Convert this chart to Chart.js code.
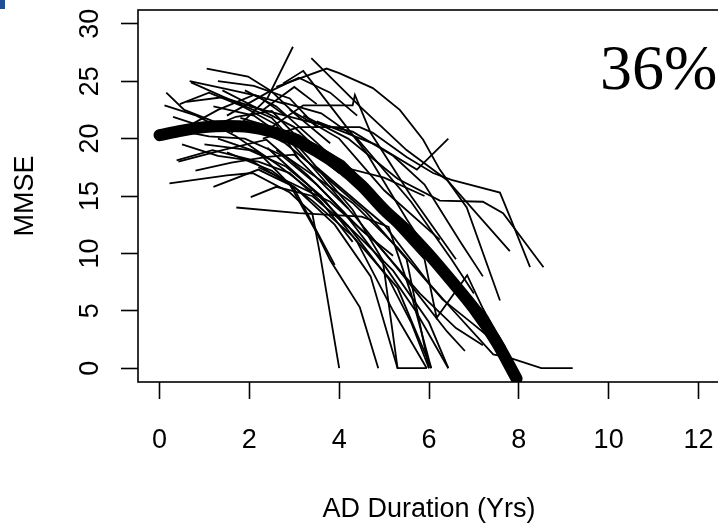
<!DOCTYPE html>
<html>
<head>
<meta charset="utf-8">
<title>MMSE vs AD Duration</title>
<script src="https://cdn.jsdelivr.net/npm/chart.js@4.4.1/dist/chart.umd.min.js"></script>
<style>
    html, body { margin: 0; padding: 0; background: #fff; overflow: hidden; }
    #wrap { position: relative; width: 722px; height: 524px; }
    #corner { position: absolute; left: 0; top: 0; width: 5px; height: 9px; background: #1f4f95; }
</style>
</head>
<body>
<div id="wrap">
    <canvas id="chart" width="722" height="524"></canvas>
    <div id="corner"></div>
</div>
<script>
// axis ticks
const durationTicks = [0, 2, 4, 6, 8, 10, 12];
const mmseTicks = [0, 5, 10, 15, 20, 25, 30];
const xTitle = 'AD Duration (Yrs)';
const yTitle = 'MMSE';
const annotation = '36%';

// fitted mean trajectory (thick curve)
const meanYears = [0, 0.5, 1, 1.5, 2, 2.5, 3, 3.5, 4, 4.5, 5, 5.5, 6, 6.5, 7, 7.5, 7.95];
const meanMmse = [20.3, 20.7, 21.0, 21.1, 21.0, 20.6, 19.9, 18.9, 17.6, 15.9, 13.8, 12.0, 9.9, 7.6, 5.2, 2.3, -0.9];

// individual patient trajectories, [years, MMSE]
const trajectories = [
    [[0.15, 24.0], [0.55, 22.5], [1.4, 21.2], [2.3, 20.6]],
    [[0.11, 22.9], [0.82, 22.0], [1.7, 20.2], [2.6, 17.8], [3.4, 15.4]],
    [[0.7, 24.9], [1.56, 23.4], [2.5, 21.8], [3.3, 18.4], [4.3, 13.8], [4.97, 9.4], [5.3, 0], [5.95, 0]],
    [[1.05, 26.1], [1.97, 25.4], [2.5, 24.1], [3.0, 22.2], [3.8, 19.6]],
    [[0.22, 16.1], [1.5, 16.8], [2.07, 17.0], [2.9, 15.3], [3.4, 13.5], [3.57, 10.0], [4.0, 0]],
    [[0.42, 18.0], [1.4, 19.0], [2.38, 19.9], [3.3, 16.8], [4.1, 13.6], [5.0, 9.0], [5.7, 5.0], [6.43, 0]],
    [[0.38, 18.1], [1.18, 19.0], [2.0, 18.2], [2.9, 16.0], [3.5, 11.8], [3.8, 9.4], [4.46, 5.3], [4.87, 0]],
    [[1.71, 14.0], [3.1, 13.5], [4.5, 13.2], [5.1, 12.3], [5.6, 6.5], [6.05, 0]],
    [[0.3, 21.9], [1.0, 21.0], [1.9, 21.4], [2.8, 19.6], [3.6, 17.0], [4.6, 13.6], [5.5, 9.5], [6.0, 0]],
    [[1.3, 20.0], [2.2, 18.8], [3.0, 15.6], [3.9, 9.0]],
    [[2.6, 24.5], [3.72, 26.1], [4.0, 25.7], [4.75, 24.4], [5.35, 22.5], [5.87, 19.9], [6.24, 17.3], [6.84, 14.0], [7.58, 5.9]],
    [[2.3, 20.0], [3.1, 21.0], [4.46, 21.0], [4.75, 20.5], [5.5, 18.4], [6.09, 17.0], [6.5, 16.4], [7.58, 15.3], [7.8, 13.2], [8.25, 8.8]],
    [[3.2, 22.0], [4.2, 20.0], [5.3, 16.5], [6.24, 14.6], [7.2, 14.5], [7.65, 13.5], [8.55, 8.8]],
    [[1.6, 20.5], [2.4, 23.5], [2.97, 28.0]],
    [[3.38, 27.0], [4.46, 22.8], [5.5, 19.0], [6.4, 16.4], [7.8, 10.2]],
    [[3.5, 21.5], [4.8, 19.5], [5.73, 17.3], [6.43, 20.0]],
    [[2.9, 22.5], [4.0, 20.0], [5.0, 15.5], [6.24, 11.2]],
    [[3.0, 20.5], [4.5, 15.5], [5.9, 9.5], [6.17, 4.4], [6.85, 8.1], [7.2, 5.2], [7.5, 3.0]],
    [[3.5, 17.5], [5.0, 12.5], [6.0, 7.4], [6.5, 5.2], [7.43, 1.2], [7.8, 0.9], [8.5, 0], [9.2, 0]],
    [[2.75, 24.8], [3.2, 25.9], [3.87, 22.5], [4.6, 18.8], [5.5, 13.0], [6.3, 8.2], [7.0, 4.5]],
    [[2.5, 21.0], [3.2, 22.9], [4.3, 22.9], [4.35, 23.8], [4.7, 20.5], [5.6, 15.0], [6.6, 9.5]],
    [[2.0, 22.8], [3.3, 21.5], [4.3, 20.6], [5.2, 18.5], [5.9, 16.0], [6.7, 11.0], [7.2, 8.0]],
    [[2.7, 23.2], [3.6, 22.2], [4.4, 20.0], [5.6, 14.5], [6.5, 9.5], [7.0, 6.5]],
    [[1.8, 21.8], [3.1, 20.3], [4.1, 18.0], [5.1, 14.0], [6.0, 10.5], [7.3, 4.5], [7.7, 1.8]],
    [[2.4, 19.2], [3.3, 16.0], [4.2, 12.4], [5.1, 7.8], [5.6, 4.0], [6.0, 0]],
    [[1.2, 22.8], [2.1, 22.0], [2.9, 19.8], [3.7, 16.2], [4.4, 13.0], [5.4, 8.2], [6.4, 3.2], [6.8, 1.5]],
    [[0.5, 19.5], [1.3, 18.5], [2.2, 18.0], [2.9, 17.0], [3.6, 14.5], [4.3, 11.0]],
    [[0.6, 21.0], [1.3, 22.5], [2.1, 23.8], [2.8, 23.0]],
    [[1.4, 24.2], [2.2, 22.6], [3.0, 21.0], [3.8, 18.0], [4.7, 15.6], [5.6, 12.0]],
    [[1.0, 19.5], [2.0, 19.0], [2.8, 17.6], [3.6, 15.0], [4.4, 11.0], [5.2, 5.0], [5.95, 0]],
    [[1.5, 18.8], [2.5, 17.2], [3.4, 14.6], [4.3, 11.5], [5.3, 7.0], [6.05, 0]],
    [[2.2, 17.5], [3.0, 16.0], [3.8, 14.5], [4.8, 11.0], [5.8, 6.5], [6.6, 3.5], [7.2, 2.0]],
    [[2.6, 19.0], [3.5, 16.6], [4.3, 14.4], [5.3, 10.5], [6.3, 6.0], [7.0, 3.8], [7.4, 2.5]],
    [[1.3, 25.0], [2.1, 24.6], [2.9, 23.5], [3.5, 21.0]],
    [[0.6, 23.2], [1.4, 23.6], [2.3, 22.5], [3.0, 24.5], [3.5, 23.0]],
    [[1.9, 24.2], [2.6, 22.8], [3.4, 20.0], [4.1, 17.5], [5.0, 16.6], [5.9, 15.0]],
    [[0.67, 25.0], [1.5, 24.3], [2.2, 23.7], [2.8, 22.0]],
    [[1.5, 22.0], [2.4, 24.0], [3.1, 25.3], [3.8, 24.0], [4.4, 22.0]],
    [[1.2, 15.8], [2.2, 17.3], [3.0, 15.8], [3.9, 12.5], [4.7, 8.0], [5.3, 0]],
    [[2.03, 14.9], [2.6, 15.8], [3.4, 15.0], [4.3, 12.0], [5.2, 8.5], [6.0, 4.0], [6.43, 0]],
    [[0.9, 20.6], [1.7, 21.9], [2.5, 22.4], [3.3, 19.2], [4.0, 17.0]],
    [[0.3, 20.8], [1.1, 20.2], [1.9, 20.0], [2.7, 18.6], [3.5, 16.0], [4.5, 12.0], [5.2, 9.8]],
    [[0.45, 23.0], [1.1, 24.0], [1.8, 22.9], [2.6, 21.2], [3.1, 18.2]],
    [[0.8, 17.2], [1.6, 17.9], [2.4, 18.4], [3.0, 18.6], [3.7, 15.8], [4.2, 13.9]]
];

const sansFont = '"Liberation Sans", Arial, sans-serif';

const rFrame = {
    id: 'rFrame',
    afterDraw(chart) {
        const { ctx, chartArea: a, scales: { x, y } } = chart;
        ctx.save();
        ctx.strokeStyle = '#000';
        ctx.lineWidth = 1.6;
        ctx.strokeRect(a.left, a.top, a.right - a.left, a.bottom - a.top);

        ctx.fillStyle = '#000';
        ctx.font = '27px ' + sansFont;
        ctx.textAlign = 'center';
        ctx.textBaseline = 'alphabetic';
        durationTicks.forEach(v => ctx.fillText(String(v), x.getPixelForValue(v), 448));
        mmseTicks.forEach(v => {
            ctx.save();
            ctx.translate(98, y.getPixelForValue(v));
            ctx.rotate(-Math.PI / 2);
            ctx.fillText(String(v), 0, 0);
            ctx.restore();
        });

        ctx.fillText(xTitle, (a.left + a.right) / 2, 517);
        ctx.save();
        ctx.translate(33, (a.top + a.bottom) / 2);
        ctx.rotate(-Math.PI / 2);
        ctx.fillText(yTitle, 0, 0);
        ctx.restore();

        ctx.textAlign = 'left';
        ctx.font = '64px "Liberation Serif", "Times New Roman", serif';
        ctx.fillText(annotation, 600, 89);
        ctx.restore();
    }
};

const datasets = trajectories.map(t => ({
    data: t.map(p => ({ x: p[0], y: p[1] })),
    borderColor: '#000',
    borderWidth: 1.8,
    pointRadius: 0,
    tension: 0,
    order: 1
}));

datasets.unshift({
    data: meanYears.map((v, i) => ({ x: v, y: meanMmse[i] })),
    borderColor: '#000',
    borderWidth: 12,
    borderCapStyle: 'round',
    borderJoinStyle: 'round',
    pointRadius: 0,
    cubicInterpolationMode: 'monotone',
    order: 0
});

const axisGrid = {
    display: true,
    drawOnChartArea: false,
    drawTicks: true,
    tickLength: 17,
    tickColor: '#000',
    tickWidth: 1.6
};

new Chart(document.getElementById('chart'), {
    type: 'line',
    data: { datasets },
    options: {
        responsive: false,
        devicePixelRatio: 1,
        animation: false,
        layout: { padding: { top: 10, right: 2, left: 0, bottom: 0 } },
        plugins: { legend: { display: false }, tooltip: { enabled: false } },
        scales: {
            x: {
                type: 'linear',
                min: -0.48,
                max: 12.48,
                grid: axisGrid,
                border: { display: false },
                ticks: { display: false, stepSize: 2, includeBounds: false },
                afterFit: s => { s.height = 142; }
            },
            y: {
                type: 'linear',
                min: -1.2,
                max: 31.2,
                grid: axisGrid,
                border: { display: false },
                ticks: { display: false, stepSize: 5, includeBounds: false },
                afterFit: s => { s.width = 138; }
            }
        }
    },
    plugins: [rFrame]
});
</script>
</body>
</html>
